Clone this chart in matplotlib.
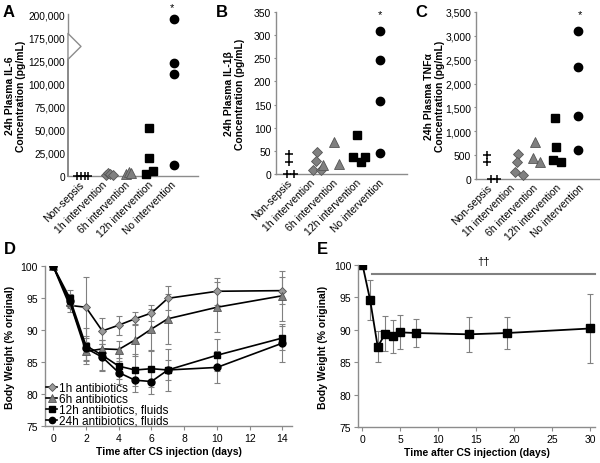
import matplotlib
matplotlib.use("Agg")
import matplotlib.pyplot as plt
import matplotlib.transforms as mtransforms
import numpy as np

plt.rcParams["font.family"] = ["Liberation Sans", "DejaVu Sans"]

groups = ["Non-sepsis", "1h intervention", "6h intervention",
          "12h intervention", "No intervention"]

# panel A: IL-6 (pg/mL), x = group position with jitter
il6_x = [[0.93, 1.09, 1.25, 1.40], [2.17, 2.26, 2.35, 2.48], [3.04, 3.15, 3.26],
         [4.06, 4.06, 3.91, 4.23], [5.13, 5.13, 5.13, 5.13]]
il6 = [[0, 0, 0, 0], [1500, 3000, 2500, 1000], [2500, 4500, 3000],
       [52000, 19000, 2500, 5000], [194500, 122500, 110000, 11500]]

# panel B: IL-1beta (pg/mL)
il1b_x = [[1.10, 1.10, 1.01, 1.32], [2.30, 2.26, 2.13, 2.48], [3.04, 2.57, 3.26],
          [4.04, 3.87, 4.22, 4.39], [5.04, 5.04, 5.04, 5.04]]
il1b = [[43, 26, 0, 0], [47, 28, 9, 9], [70, 20, 22],
        [84, 37, 26, 37], [309, 247, 158, 45]]

# panel C: TNFa (pg/mL)
tnf_x = [[1.0, 1.0, 1.17, 1.43], [2.35, 2.30, 2.22, 2.57], [3.09, 3.0, 3.30],
         [3.96, 4.0, 3.87, 4.22], [4.96, 4.96, 4.96, 4.96]]
tnf = [[509, 350, 0, 0], [524, 363, 140, 90], [782, 434, 350],
       [1272, 664, 405, 363], [3096, 2342, 1327, 614]]

# panel D: body weight by treatment start
days_d = [0, 1, 2, 3, 4, 5, 6, 7, 10, 14]
bw_1h = [100, 93.9, 93.6, 89.9, 90.8, 91.8, 92.7, 95.0, 96.1, 96.2]
err_1h = [0, 1.0, 4.8, 2.0, 1.5, 1.0, 1.3, 1.9, 2.1, 2.1]
bw_6h = [100, 94.5, 86.7, 87.1, 87.0, 88.5, 90.2, 91.8, 93.6, 95.4]
err_6h = [0, 1.0, 1.5, 1.4, 1.3, 2.5, 3.2, 3.9, 3.9, 3.9]
bw_12h = [100, 95.1, 87.6, 86.1, 84.4, 83.8, 84.0, 83.8, 86.1, 88.8]
err_12h = [0, 1.2, 2.8, 2.4, 2.0, 2.5, 2.8, 3.3, 2.5, 1.9]
bw_24h = [100, 94.6, 87.2, 85.8, 83.4, 82.2, 82.0, 83.8, 84.2, 88.0]
err_24h = [0, 1.0, 1.9, 2.0, 1.8, 1.8, 1.9, 1.5, 2.5, 3.0]
labels_d = ["1h antibiotics", "6h antibiotics",
            "12h antibiotics, fluids", "24h antibiotics, fluids"]

# panel E: body weight, long term
days_e = [0, 1, 2, 3, 4, 5, 7, 14, 19, 30]
bw_e = [100, 94.6, 87.4, 89.4, 89.0, 89.6, 89.5, 89.3, 89.5, 90.2]
err_e = [0, 3.05, 2.4, 2.7, 2.5, 2.6, 2.15, 2.65, 2.4, 5.3]

gray = "#808080"
axcol = "#8c8c8c"
styles = [dict(marker="+", color="black", ms=6, mew=1.1),
          dict(marker="D", mfc=gray, mec="#555555", ms=5, mew=0.6),
          dict(marker="^", mfc=gray, mec="#555555", ms=6.5, mew=0.6),
          dict(marker="s", mfc="black", mec="black", ms=5.5),
          dict(marker="o", mfc="black", mec="black", ms=6)]
styles_d = [dict(marker="D", mfc="#9a9a9a", mec="#555555", ms=4.5, mew=0.6),
            dict(marker="^", mfc=gray, mec="#555555", ms=6, mew=0.6),
            dict(marker="s", mfc="black", mec="black", ms=5),
            dict(marker="o", mfc="black", mec="black", ms=5)]


def style_axis(ax, xticks=True, ylen=3):
    for s in ["top", "right"]:
        ax.spines[s].set_visible(False)
    for s in ["left", "bottom"]:
        ax.spines[s].set_color(axcol)
        ax.spines[s].set_linewidth(1.0)
    ax.tick_params(axis="y", length=ylen, width=0.8, color=axcol, labelsize=7.5, pad=2)
    ax.tick_params(axis="x", length=3 if xticks else 0, width=0.8, color=axcol,
                   labelsize=7.5, pad=2)


def scatter_panel(ax, xs, ys, ylabel, xlim, labx):
    for x, y, st in zip(xs, ys, styles):
        ax.plot(x, y, ls="none", clip_on=False, zorder=3, **st)
    ax.set_xlim(*xlim)
    ax.set_xticks(range(1, len(groups) + 1))
    ax.set_xticklabels(groups, rotation=45, ha="right", va="top",
                       rotation_mode="anchor", fontsize=7)
    style_axis(ax, xticks=False, ylen=1.5)
    ax.set_ylabel(ylabel, fontsize=7.5, fontweight="bold")
    ax.yaxis.set_label_coords(labx, 0.5)


def comma(v, pos):
    return "{:,.0f}".format(v)


fig = plt.figure(figsize=(6, 4.64), dpi=100)

# ---- A (broken y axis between 125,000 and 175,000)
def fwd(y):
    y = np.asarray(y, dtype=float)
    return np.where(y <= 125000, y,
                    np.where(y <= 175000, 125000 + (y - 125000) * 0.5, y - 25000))


def inv(t):
    t = np.asarray(t, dtype=float)
    return np.where(t <= 125000, t,
                    np.where(t <= 150000, 125000 + (t - 125000) * 2, t + 25000))


axA = fig.add_axes([0.1133, 0.6185, 0.2167, 0.3491])
axA.set_yscale("function", functions=(fwd, inv))
axA.set_ylim(0, 200000)
scatter_panel(axA, il6_x, il6, "24h Plasma IL-6\nConcentration (pg/mL)",
              (0.52, 6.17), -0.32)
axA.set_yticks([0, 25000, 50000, 75000, 100000, 125000, 175000, 200000])
axA.yaxis.set_major_formatter(matplotlib.ticker.FuncFormatter(comma))
axA.tick_params(axis="y", length=0, pad=2, labelsize=7.3)
axA.spines["left"].set_visible(False)
axA.plot([0, 0, 0.10, 0, 0], [0, 0.88, 0.80, 0.72, 0], color=axcol, lw=1.0,
         transform=axA.transAxes, clip_on=False)
axA.plot([0, 0], [0.88, 1.0], color=axcol, lw=1.0, transform=axA.transAxes,
         clip_on=False)

# ---- B
axB = fig.add_axes([0.46, 0.6228, 0.2183, 0.3491])
axB.set_ylim(0, 350)
axB.set_yticks(range(0, 351, 50))
scatter_panel(axB, il1b_x, il1b, "24h Plasma IL-1β\nConcentration (pg/mL)",
              (0.52, 6.22), -0.235)

# ---- C
axC = fig.add_axes([0.7933, 0.6121, 0.205, 0.3599])
axC.set_ylim(0, 3500)
axC.set_yticks(range(0, 3501, 500))
axC.yaxis.set_major_formatter(matplotlib.ticker.FuncFormatter(comma))
scatter_panel(axC, tnf_x, tnf, "24h Plasma TNFα\nConcentration (pg/mL)",
              (0.52, 5.87), -0.25)

# significance stars above the no-intervention group
for ax, ypos in [(axA, 1.045), (axB, 0.99), (axC, 0.99)]:
    tr = mtransforms.blended_transform_factory(ax.transData, ax.transAxes)
    ax.text(len(groups) + 0.05, ypos, "*", transform=tr, ha="center", va="center",
            fontsize=8)

# ---- D
axD = fig.add_axes([0.075, 0.0791, 0.4122, 0.3448])
series_d = [(bw_1h, err_1h), (bw_6h, err_6h), (bw_12h, err_12h), (bw_24h, err_24h)]
for (bw, err), lab, st in zip(series_d, labels_d, styles_d):
    axD.errorbar(days_d, bw, yerr=err, fmt="none", ecolor=gray,
                 elinewidth=0.8, capsize=2, capthick=0.8)
for (bw, err), lab, st in zip(series_d, labels_d, styles_d):
    axD.plot(days_d, bw, color="black", lw=1.2, label=lab, **st)
axD.set_xlim(-0.5, 14.6)
axD.set_ylim(75, 100)
axD.set_xticks(range(0, 15, 2))
axD.set_yticks(range(75, 101, 5))
style_axis(axD)
axD.set_xlabel("Time after CS injection (days)", fontsize=7.5, fontweight="bold",
               labelpad=2)
axD.set_ylabel("Body Weight (% original)", fontsize=7.5, fontweight="bold", labelpad=4)
axD.legend(loc="upper left", bbox_to_anchor=(0.077, 0.175),
           bbox_transform=fig.transFigure, frameon=False, fontsize=8.5,
           handlelength=0.9, handletextpad=0.2, labelspacing=-0.08,
           handleheight=0.5, markerscale=0.9, borderaxespad=0, borderpad=0)

# ---- E
axE = fig.add_axes([0.5972, 0.0769, 0.3945, 0.3504])
axE.errorbar(days_e, bw_e, yerr=err_e, color="black", lw=1.3, ecolor=gray,
             elinewidth=0.8, capsize=2, capthick=0.8, marker="s", ms=6,
             mfc="black", mec="black")
axE.set_xlim(-0.55, 30.6)
axE.set_ylim(75, 100)
axE.set_xticks(range(0, 31, 5))
axE.set_yticks(range(75, 101, 5))
style_axis(axE)
axE.set_xlabel("Time after CS injection (days)", fontsize=7.5, fontweight="bold",
               labelpad=2)
axE.set_ylabel("Body Weight (% original)", fontsize=7.5, fontweight="bold", labelpad=4)
axE.plot([1.2, 30.6], [98.5, 98.5], color=gray, lw=1.5, clip_on=False)
axE.text(15.9, 100.5, "††", ha="center", va="center", fontsize=8, clip_on=False)

# panel letters
for lx, ly, t in [(0.004, 0.99, "A"), (0.36, 0.99, "B"), (0.693, 0.99, "C"),
                  (0.007, 0.478, "D"), (0.528, 0.478, "E")]:
    fig.text(lx, ly, t, fontsize=12, fontweight="bold", va="top", ha="left")

fig.savefig("out.png", dpi=100)
